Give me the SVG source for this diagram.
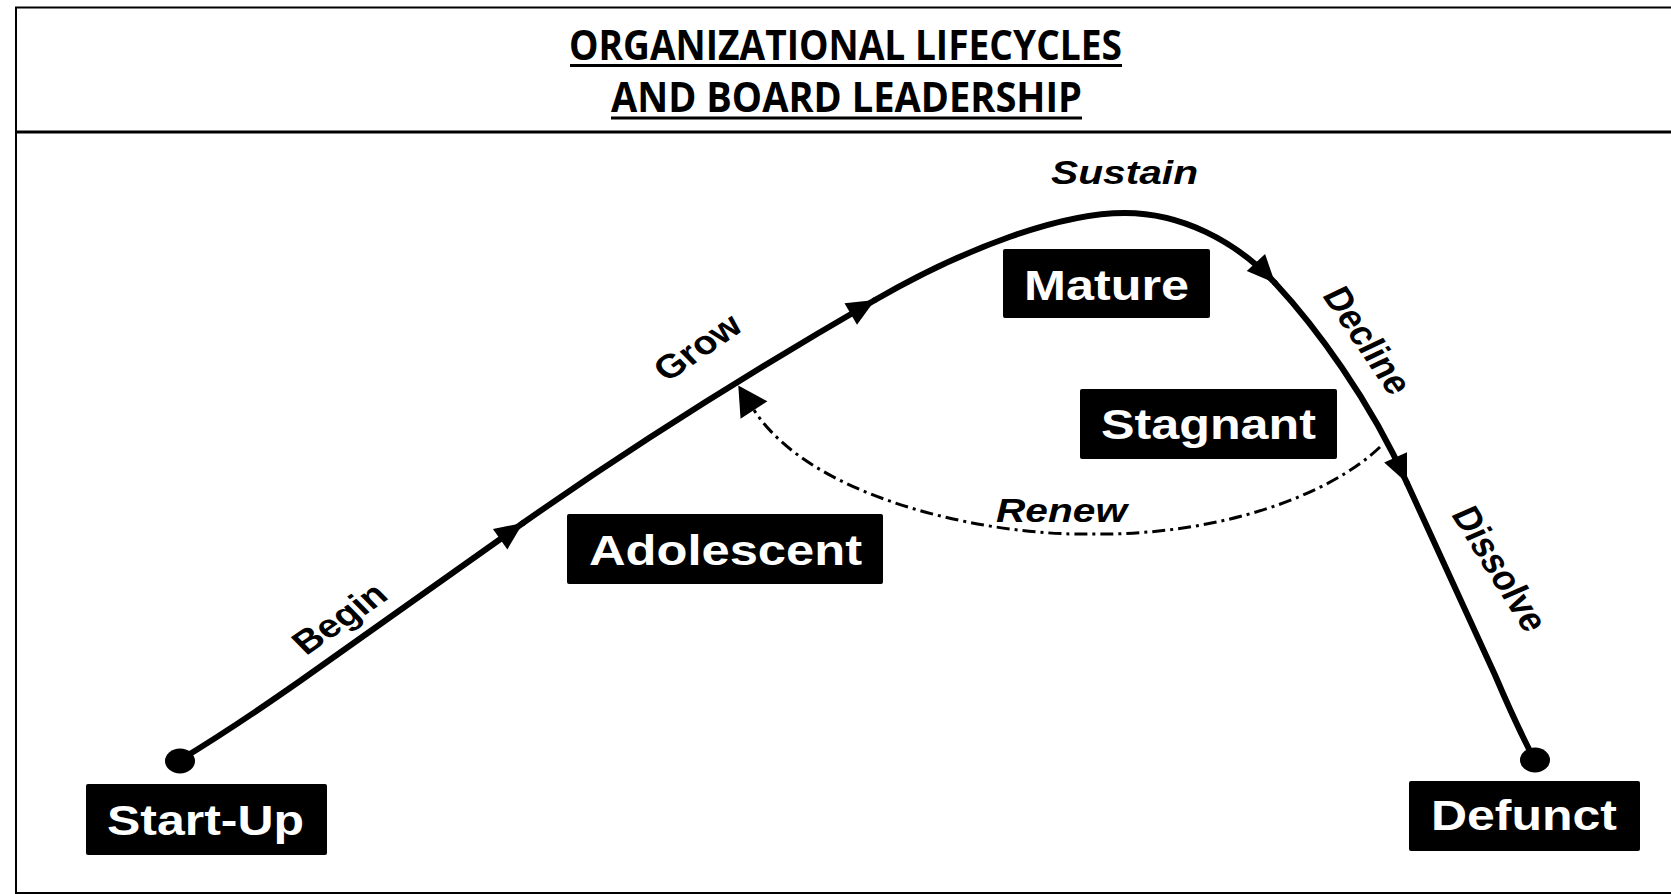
<svg xmlns="http://www.w3.org/2000/svg" width="1671" height="894" viewBox="0 0 1671 894">
  <style>
    .frame { fill: none; stroke: #000; stroke-width: 2; }
    .title { font-family: "Open Sans", "Liberation Sans", sans-serif; font-weight: 700; font-size: 42px; fill: #000; }
    .box { fill: #000; }
    .stage { font-family: "Liberation Sans", Arial, sans-serif; font-weight: 700; font-size: 42px; fill: #fff; }
    .phase { font-family: "Liberation Sans", Arial, sans-serif; font-weight: 700; font-size: 33px; fill: #000; }
    .phase-i { font-family: "Liberation Sans", Arial, sans-serif; font-weight: 700; font-style: italic; font-size: 33px; fill: #000; }
    .curve { fill: none; stroke: #000; stroke-width: 6; stroke-linecap: round; stroke-linejoin: round; }
    .renew { fill: none; stroke: #000; stroke-width: 3; stroke-dasharray: 13 5 3 5; }
  </style>
  <defs>
    <marker id="arrow" markerUnits="userSpaceOnUse" markerWidth="34" markerHeight="34" viewBox="-31 -17 34 34" refX="0" refY="0" orient="auto" overflow="visible">
      <path d="M0,0 L-28,-12.5 L-28,12.5 Z" fill="#000"/>
    </marker>
    <marker id="arrowOpen" markerUnits="userSpaceOnUse" markerWidth="34" markerHeight="36" viewBox="-2 -18 34 36" refX="0" refY="0" orient="auto" overflow="visible">
      <path d="M29,0 L0,-16 L0,16 Z" fill="#000"/>
    </marker>
  </defs>

  <rect width="1671" height="894" fill="#fff"/>

  <!-- outer frame and header band -->
  <g id="frame">
    <path class="frame" d="M1672,7.5 H16 V893 H1672"/>
    <line x1="16" y1="132" x2="1672" y2="132" stroke="#000" stroke-width="3"/>
  </g>

  <g id="title">
    <text class="title" x="569" y="60" textLength="553" lengthAdjust="spacingAndGlyphs">ORGANIZATIONAL LIFECYCLES</text>
    <line x1="570" y1="65.5" x2="1122" y2="65.5" stroke="#000" stroke-width="3"/>
    <text class="title" x="611" y="112" textLength="471" lengthAdjust="spacingAndGlyphs">AND BOARD LEADERSHIP</text>
    <line x1="611" y1="118" x2="1082" y2="118" stroke="#000" stroke-width="3"/>
  </g>

  <!-- lifecycle curve and renewal loop -->
  <g id="connectors">
    <path class="curve" d="M180,760 C210,742 250,716 300,681 L523,523" marker-end="url(#arrow)"/>
    <path class="curve" d="M523,523 C620,455 740,378 875,300" marker-end="url(#arrow)"/>
    <path class="curve" d="M875,300 C965,248 1060,213 1125,213 C1180,213 1235,240 1275,283" marker-end="url(#arrow)"/>
    <path class="curve" d="M1275,283 C1315,326 1370,400 1407,483" marker-end="url(#arrow)"/>
    <path class="curve" d="M1407,483 L1495,675 Q1515,722 1532,755"/>
    <path class="renew" d="M1380,447 C1330,495 1220,536 1090,534 C990,536 812,500 754,410" marker-end="url(#arrowOpen)"/>
  </g>

  <g id="start-up">
    <ellipse cx="180" cy="761" rx="15" ry="12.5" fill="#000"/>
    <rect class="box" x="86" y="784" width="241" height="71" rx="2"/>
    <text class="stage" x="107" y="835" textLength="197" lengthAdjust="spacingAndGlyphs">Start-Up</text>
  </g>

  <g id="adolescent">
    <rect class="box" x="567" y="514" width="316" height="70" rx="2"/>
    <text class="stage" x="589" y="565" textLength="273" lengthAdjust="spacingAndGlyphs">Adolescent</text>
  </g>

  <g id="mature">
    <rect class="box" x="1003" y="249" width="207" height="69" rx="2"/>
    <text class="stage" x="1024" y="299.5" textLength="165" lengthAdjust="spacingAndGlyphs">Mature</text>
  </g>

  <g id="stagnant">
    <rect class="box" x="1080" y="389" width="257" height="70" rx="2"/>
    <text class="stage" x="1101" y="439" textLength="215" lengthAdjust="spacingAndGlyphs">Stagnant</text>
  </g>

  <g id="defunct">
    <ellipse cx="1535" cy="760" rx="15" ry="12.5" fill="#000"/>
    <rect class="box" x="1409" y="781" width="231" height="70" rx="2"/>
    <text class="stage" x="1431" y="830" textLength="186" lengthAdjust="spacingAndGlyphs">Defunct</text>
  </g>

  <!-- phase labels along the curve -->
  <g id="labels">
    <g transform="translate(348,627) scale(1.19,1) rotate(-39.6)">
      <text class="phase" x="0" y="0" text-anchor="middle">Begin</text>
    </g>
    <g transform="translate(706,356) scale(1.19,1) rotate(-39.3)">
      <text class="phase" x="0" y="0" text-anchor="middle">Grow</text>
    </g>
    <text class="phase-i" x="1051" y="184" textLength="147" lengthAdjust="spacingAndGlyphs">Sustain</text>
    <g transform="translate(1356,346) scale(1.19,1) rotate(60.5)">
      <text class="phase" x="0" y="0" text-anchor="middle">Decline</text>
    </g>
    <g transform="translate(1488,574) scale(1.19,1) rotate(62.3)">
      <text class="phase" x="0" y="0" text-anchor="middle">Dissolve</text>
    </g>
    <text class="phase-i" x="996" y="522" textLength="131" lengthAdjust="spacingAndGlyphs">Renew</text>
  </g>
</svg>
